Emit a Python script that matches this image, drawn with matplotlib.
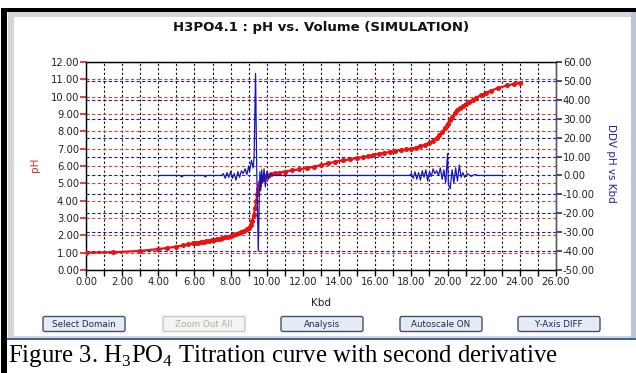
import matplotlib
matplotlib.use("Agg")
import matplotlib.pyplot as plt
from matplotlib.patches import Rectangle, FancyBboxPatch
from matplotlib.ticker import MultipleLocator, FixedLocator, FixedFormatter

plt.rcParams['font.family'] = ['DejaVu Sans']
plt.rcParams['axes.unicode_minus'] = False
plt.rcParams['mathtext.fontset'] = 'custom'
plt.rcParams['mathtext.rm'] = 'Liberation Serif'

# ---- data ----
vol = [0.0, 1.5, 3.0, 4.0, 4.5, 5.0, 5.35, 5.65,
       5.9, 6.05, 6.2, 6.35, 6.5, 6.65, 6.8, 6.95, 7.1, 7.25, 7.4, 7.55, 7.7, 7.85,
       8.0, 8.15, 8.3, 8.45, 8.6, 8.75, 8.9, 9.0, 9.1, 9.2, 9.28, 9.35, 9.42, 9.48,
       9.53, 9.58, 9.63, 9.7, 9.78, 9.87, 9.96, 10.1, 10.25, 10.45, 10.7, 11.0,
       11.4, 11.8, 12.2, 12.6, 13.0, 13.4, 13.8, 14.2, 14.6, 15.0, 15.3, 15.6,
       15.9, 16.2, 16.5, 16.8, 17.1, 17.4, 17.7, 18.0, 18.25, 18.5, 18.75, 19.0,
       19.2, 19.4, 19.55, 19.7, 19.85, 20.0, 20.12, 20.25, 20.4, 20.55, 20.7,
       20.85, 21.0, 21.2, 21.4, 21.6, 21.85, 22.1, 22.4, 22.8, 23.3, 23.7, 24.0]
ph = [1.00, 1.02, 1.10, 1.21, 1.27, 1.35, 1.42, 1.48,
      1.53, 1.56, 1.58, 1.61, 1.63, 1.66, 1.69, 1.72, 1.75, 1.78, 1.81, 1.85, 1.88,
      1.92, 1.96, 2.01, 2.06, 2.12, 2.18, 2.26, 2.36, 2.45, 2.60, 2.85, 3.15, 3.55,
      4.00, 4.40, 4.70, 4.92, 5.06, 5.18, 5.27, 5.34, 5.40, 5.46, 5.51, 5.57, 5.62,
      5.68, 5.75, 5.81, 5.88, 5.95, 6.05, 6.15, 6.25, 6.32, 6.39, 6.46, 6.51, 6.57,
      6.64, 6.71, 6.76, 6.81, 6.86, 6.91, 6.96, 7.00, 7.06, 7.13, 7.22, 7.34, 7.46,
      7.62, 7.80, 7.97, 8.18, 8.45, 8.63, 8.82, 9.05, 9.22, 9.36, 9.47, 9.57, 9.71,
      9.83, 9.95, 10.09, 10.22, 10.35, 10.50, 10.65, 10.74, 10.80]

ddv_x = [4.0, 5.2, 5.3, 5.4, 6.5, 6.6, 6.7, 7.5, 7.6, 7.7, 7.8, 7.9, 8.0, 8.1, 8.2,
         8.3, 8.4, 8.5, 8.6, 8.7, 8.8, 8.9, 9.0, 9.05, 9.15, 9.25, 9.3, 9.38, 9.41,
         9.45, 9.53, 9.57, 9.62, 9.67, 9.72, 9.78, 9.85, 9.92, 10.0, 10.1, 10.2,
         10.3, 17.9, 18.0, 18.1, 18.2, 18.3, 18.4, 18.5, 18.6, 18.7, 18.8, 18.9,
         19.0, 19.1, 19.2, 19.3, 19.4, 19.5, 19.6, 19.7, 19.8, 19.9, 20.0, 20.05,
         20.15, 20.25, 20.35, 20.45, 20.55, 20.65, 20.75, 20.85, 20.95, 21.1, 21.3,
         21.5, 21.7, 23.0]
ddv = [0.0, 0.0, -0.8, 0.0, 0.0, -0.8, 0.0, 0.0, 1.0, -1.5, 1.5, -1.0, 2.0, -1.5,
       1.0, -2.5, 2.0, -1.0, 2.5, 1.0, 3.5, 0.5, 5.0, 2.0, 8.0, 4.0, 10.0, 54.0,
       30.0, 0.0, -40.0, -20.0, 2.0, -8.0, 3.0, -4.0, 3.5, -6.0, 2.0, -2.0, 1.0,
       0.0, 0.0, 1.0, -1.5, 2.0, -2.0, 1.5, -2.5, 2.5, -1.0, 3.0, -3.0, 2.0, -0.5,
       3.5, 1.0, 2.5, 0.0, 4.0, -2.0, 3.0, -4.0, 11.5, -5.0, -7.0, 3.0, -4.0, 4.0,
       -3.0, 5.5, -1.0, 1.5, -1.0, 1.0, -0.5, 0.5, 0.0, 0.0]

x_ticks = list(range(0, 27, 2))
ph_ticks = list(range(0, 13))
ddv_ticks = list(range(-50, 61, 10))

W, H = 636, 373
fig = plt.figure(figsize=(W / 100, H / 100), dpi=100)

# ---- window frame (pixel coordinates) ----
bg = fig.add_axes([0, 0, 1, 1])
bg.set_xlim(0, W)
bg.set_ylim(H, 0)
bg.axis('off')
bg.add_patch(Rectangle((8, 12), 628, 326, facecolor='#d6d6d6', edgecolor='none'))
bg.add_patch(Rectangle((14, 17), 617, 319, facecolor='white', edgecolor='none'))
bg.add_patch(Rectangle((631, 12), 5, 326, facecolor='#b8c4d8', edgecolor='none'))
bg.add_patch(Rectangle((2, 8), 634, 4, facecolor='black', edgecolor='none'))
bg.add_patch(Rectangle((1, 8), 6, 365, facecolor='black', edgecolor='none'))
bg.add_patch(Rectangle((7, 337.5), 629, 2.5, facecolor='#3f63b0', edgecolor='none'))

bg.text(321, 27, 'H3PO4.1 : pH vs. Volume (SIMULATION)', ha='center', va='center',
        fontsize=9.5, color='#111111', fontweight='semibold')
bg.text(321, 303, 'Kbd', ha='center', va='center', fontsize=7.5, color='#222222')
bg.text(35, 165, 'pH', ha='center', va='center', rotation=90, fontsize=7.5,
        color='#d03030')
bg.text(611, 163, 'DDV pH vs Kbd', ha='center', va='center', rotation=270,
        fontsize=7.5, color='#2020b0')

buttons = ['Select Domain', 'Zoom Out All', 'Analysis', 'Autoscale ON', 'Y-Axis DIFF']
bx = [43, 163, 281, 400, 518]
for label, x0 in zip(buttons, bx):
    disabled = label == 'Zoom Out All'
    bg.add_patch(FancyBboxPatch((x0, 316.5), 82, 15, boxstyle='round,pad=0,rounding_size=2',
                                facecolor='#f4f4f2' if disabled else '#e6ebf3',
                                edgecolor='#c9c7bc' if disabled else '#3d4f73',
                                linewidth=1.0))
    bg.text(x0 + 41, 324.5, label, ha='center', va='center', fontsize=6.3,
            color='#b0aea4' if disabled else '#1a2a55')

bg.text(8, 356, 'Figure 3. H$_3$PO$_4$ Titration curve with second derivative',
        ha='left', va='center', fontsize=17.8, family='Liberation Serif', color='black')

# ---- main chart ----
ax = fig.add_axes([86 / W, 1 - 270 / H, (556 - 86) / W, (270 - 62) / H])
ax.set_facecolor('white')
ax.set_xlim(0, 26)
ax.set_ylim(0, 12)
ax.xaxis.set_major_locator(FixedLocator(x_ticks))
ax.xaxis.set_major_formatter(FixedFormatter([f'{v:.2f}' for v in x_ticks]))
ax.xaxis.set_minor_locator(MultipleLocator(1))
ax.set_yticks(ph_ticks)
ax.set_yticklabels([f'{v:.2f}' for v in ph_ticks])
ax.tick_params(axis='x', which='both', direction='out', length=4, width=1,
               color='black', labelsize=7.2, pad=1, labelcolor='#222222')
ax.tick_params(axis='y', direction='out', length=4, width=1.2, color='#e02020',
               labelsize=7.2, pad=1, labelcolor='#222222')
for s in ax.spines.values():
    s.set_color('#222222')
    s.set_linewidth(1)

ax.xaxis.grid(True, which='both', color='#111111', linestyle=(0, (2, 2)), linewidth=0.8)
ax.yaxis.grid(True, color='#c84848', linestyle=(0, (3, 2)), linewidth=0.8)
ax.set_axisbelow(True)

ax2 = ax.twinx()
ax2.set_ylim(-50, 60)
ax2.set_yticks(ddv_ticks)
ax2.set_yticklabels([f'{v:.2f}' for v in ddv_ticks])
ax2.tick_params(axis='y', direction='out', length=4, width=1.2, color='#2020c0',
                labelsize=7.2, pad=1, labelcolor='#222222')
ax2.yaxis.grid(True, color='#22228a', linestyle=(0, (3, 2)), linewidth=0.8)
ax2.set_axisbelow(True)
ax2.spines['right'].set_color('#555555')

ax2.plot(vol, ph, color='#ee1010', linewidth=1.6, marker='o', markersize=2.6,
         transform=ax.transData, zorder=3)
ax2.plot(ddv_x, ddv, color='#1515c0', linewidth=0.9, zorder=4)
ax2.set_xlim(0, 26)
ax2.set_ylim(-50, 60)

fig.savefig('out.png', dpi=100)
